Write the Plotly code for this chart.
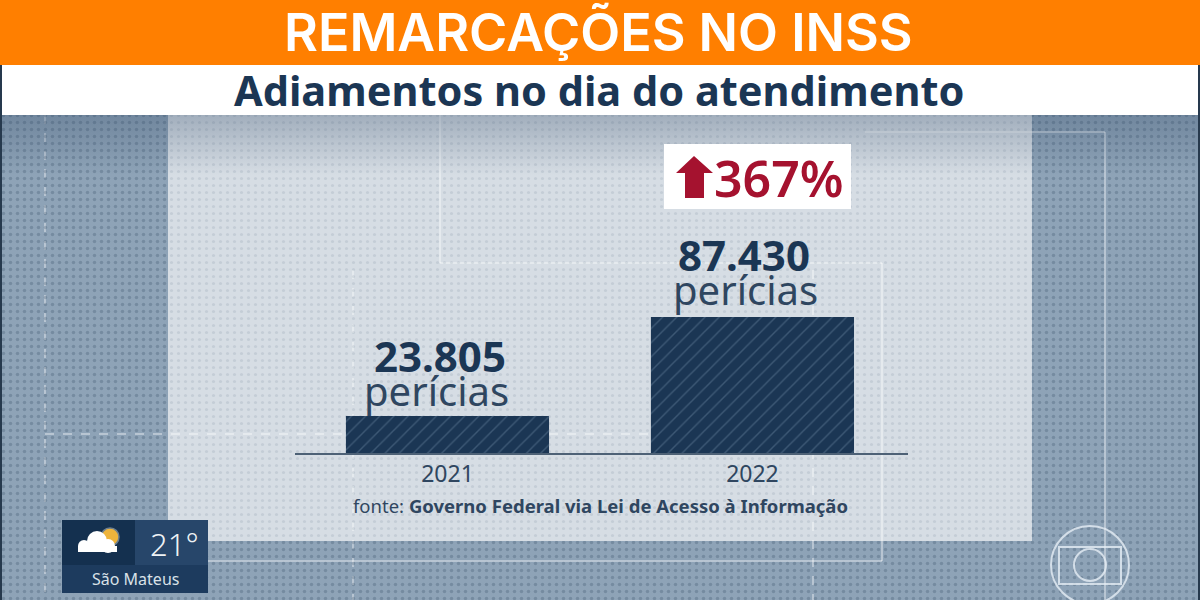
import plotly.graph_objects as go

anos = ["2021", "2022"]
pericias = [23805, 87430]
rotulos = ["23.805", "87.430"]
unidade = "perícias"
variacao = "367%"
titulo = "REMARCAÇÕES NO INSS"
subtitulo = "Adiamentos no dia do atendimento"

AZUL = "#1b3654"
FONTE = "Noto Sans"


def rect(x0, y0, x1, y1, cor, layer="below", **kw):
    return dict(type="rect", xref="x", yref="y", x0=x0, y0=y0, x1=x1, y1=y1,
                fillcolor=cor, line_width=0, layer=layer, **kw)


def linha(x0, y0, x1, y1, cor="rgba(255,255,255,0.5)", dash="solid", width=1.5):
    return dict(type="line", xref="x", yref="y", x0=x0, y0=y0, x1=x1, y1=y1,
                line=dict(color=cor, dash=dash, width=width), layer="below")


def circulo(cx, cy, r, cor="rgba(0,0,0,0)", borda=None, width=2, layer="above"):
    return dict(type="circle", xref="x", yref="y", x0=cx - r, y0=cy - r, x1=cx + r, y1=cy + r,
                fillcolor=cor, line=dict(color=borda, width=width if borda else 0), layer=layer)


def caixa(x0, y0, x1, y1):
    return [x0, x1, x1, x0, x0, None], [y0, y0, y1, y1, y0, None]


fig = go.Figure()

# textura de pontos: mais forte nas laterais, fraca no painel claro
xe, ye = caixa(0, 115, 168, 600)
xd, yd = caixa(1032, 115, 1200, 600)
xb, yb = caixa(168, 541, 1032, 600)
fig.add_trace(go.Scatter(
    x=xe + xd + xb, y=ye + yd + yb, mode="none", fill="toself", hoverinfo="skip",
    fillcolor="rgba(0,0,0,0)",
    fillpattern=dict(shape=".", size=7, solidity=0.2, fgcolor="rgba(45,68,92,0.5)", bgcolor="rgba(0,0,0,0)"),
    xaxis="x", yaxis="y",
))
xp, yp = caixa(168, 115, 1032, 541)
fig.add_trace(go.Scatter(
    x=xp, y=yp, mode="none", fill="toself", hoverinfo="skip",
    fillcolor="rgba(0,0,0,0)",
    fillpattern=dict(shape=".", size=7, solidity=0.16, fgcolor="rgba(70,95,120,0.25)", bgcolor="rgba(0,0,0,0)"),
    xaxis="x", yaxis="y",
))
x_sombra, y_sombra = caixa(0, 115, 1200, 175)
fig.add_trace(go.Scatter(
    x=x_sombra, y=y_sombra, mode="none", fill="toself", hoverinfo="skip",
    fillgradient=dict(type="vertical", colorscale=[[0, "rgba(50,75,105,0)"], [1, "rgba(50,75,105,0.32)"]]),
    xaxis="x", yaxis="y",
))

fig.add_trace(go.Bar(
    x=anos, y=pericias, width=0.666, hoverinfo="skip",
    marker=dict(
        color=AZUL, line_width=0,
        pattern=dict(shape="/", size=10, solidity=0.14, fgcolor="#5f7a95", bgcolor=AZUL),
    ),
    xaxis="x2", yaxis="y2",
))

shapes = [
    # paineis
    rect(0, 115, 1200, 600, "#8ea3b7"),
    rect(168, 115, 1032, 541, "#d6dde4"),
    # linhas decorativas
    linha(45, 115, 45, 600, dash="dash"),
    linha(353, 270, 353, 600, dash="dash"),
    linha(813, 270, 813, 600, dash="dash"),
    linha(45, 434, 650, 434, dash="dash"),
    linha(440, 115, 440, 263),
    linha(440, 263, 882, 263),
    linha(882, 263, 882, 561),
    linha(208, 561, 882, 561),
    linha(865, 132, 1105, 132),
    linha(1105, 132, 1105, 600),
    # faixas do titulo
    rect(0, 65, 1200, 115, "#ffffff", "above"),
    rect(0, 0, 1200, 65, "#ff7f00", "above"),
    rect(0, 65, 2, 600, "#26394d", "above"),
    rect(1198, 65, 1200, 600, "#26394d", "above"),
    # caixa do percentual e seta
    rect(664, 144, 851, 209, "#ffffff", "above"),
    dict(type="path", xref="x", yref="y", layer="above", fillcolor="#a5122f", line_width=0,
         path="M 694 156 L 713 173 L 704 173 L 704 198 L 685 198 L 685 173 L 676 173 Z"),
    # previsao do tempo
    rect(62, 520, 208, 593, "#1d3b5e", "above"),
    rect(62, 520, 135, 565, "#14304f", "above"),
    rect(135, 520, 208, 565, "#27466a", "above"),
    circulo(110, 537, 9, "#eeb43c", "#6d7f8f", 1.5),
    circulo(84, 546, 6, "#ffffff"),
    circulo(97, 541, 10, "#ffffff"),
    circulo(108, 546, 7, "#ffffff"),
    dict(type="rect", xref="x", yref="y", layer="above", x0=78, y0=546, x1=117, y1=552,
         fillcolor="#ffffff", line_width=0),
    # logo
    circulo(1090, 565, 39, borda="rgba(230,238,245,0.8)"),
    circulo(1090, 565, 16, borda="rgba(230,238,245,0.8)"),
    dict(type="rect", xref="x", yref="y", layer="above", x0=1059, y0=547, x1=1121, y1=584,
         fillcolor="rgba(0,0,0,0)", line=dict(color="rgba(230,238,245,0.8)", width=2)),
]


def texto(x, y, s, size, cor, weight=400, xref="x", yref="y", xshift=0, yshift=0, familia=FONTE):
    return dict(x=x, y=y, xref=xref, yref=yref, text=s, showarrow=False, xshift=xshift, yshift=yshift,
                xanchor="center", yanchor="middle",
                font=dict(family=familia, size=size, color=cor, weight=weight))


annotations = [
    texto(598, 32, titulo, 52, "#ffffff", 600, familia="Inter"),
    texto(599, 90, subtitulo, 41.5, AZUL, 700),
    texto(779, 178, variacao, 50, "#a5122f", 600),
    texto(600, 505, "fonte: <b>Governo Federal via Lei de Acesso à Informação</b>", 18.5, "#2f4660"),
    texto(174, 544, "21°", 31, "#eef2f5", 300),
    texto(135, 579, "São Mateus", 16, "#d9e1e8"),
]
for i, (valor, rotulo, dy, dx_num, dx_un) in enumerate(zip(pericias, rotulos, [60, 63], [-7, -8], [-11, -7])):
    annotations.append(texto(i, valor, rotulo, 42, AZUL, 700, "x2", "y2", dx_num, dy))
    annotations.append(texto(i, valor, unidade, 40, "#2f4660", 400, "x2", "y2", dx_un, dy - 35))

fig.update_layout(
    width=1200, height=600,
    margin=dict(l=0, r=0, t=0, b=0),
    paper_bgcolor="#8ea3b7",
    plot_bgcolor="rgba(0,0,0,0)",
    showlegend=False,
    shapes=shapes,
    annotations=annotations,
    xaxis=dict(domain=[0, 1], range=[0, 1200], visible=False, fixedrange=True),
    yaxis=dict(domain=[0, 1], range=[600, 0], visible=False, fixedrange=True),
    xaxis2=dict(
        domain=[295 / 1200, 908 / 1200], range=[-0.5, 1.51], anchor="y2", type="category",
        showline=True, linecolor="#4d6176", linewidth=1.5, ticks="",
        tickfont=dict(family=FONTE, size=23, color="#2f4660"), ticklabelstandoff=0, fixedrange=True,
    ),
    yaxis2=dict(
        domain=[147 / 600, 283 / 600], range=[0, 87430], anchor="x2", visible=False, fixedrange=True,
    ),
)

fig.write_html("out.html", config=dict(displayModeBar=False),
               post_script="document.body.style.margin='0';")
